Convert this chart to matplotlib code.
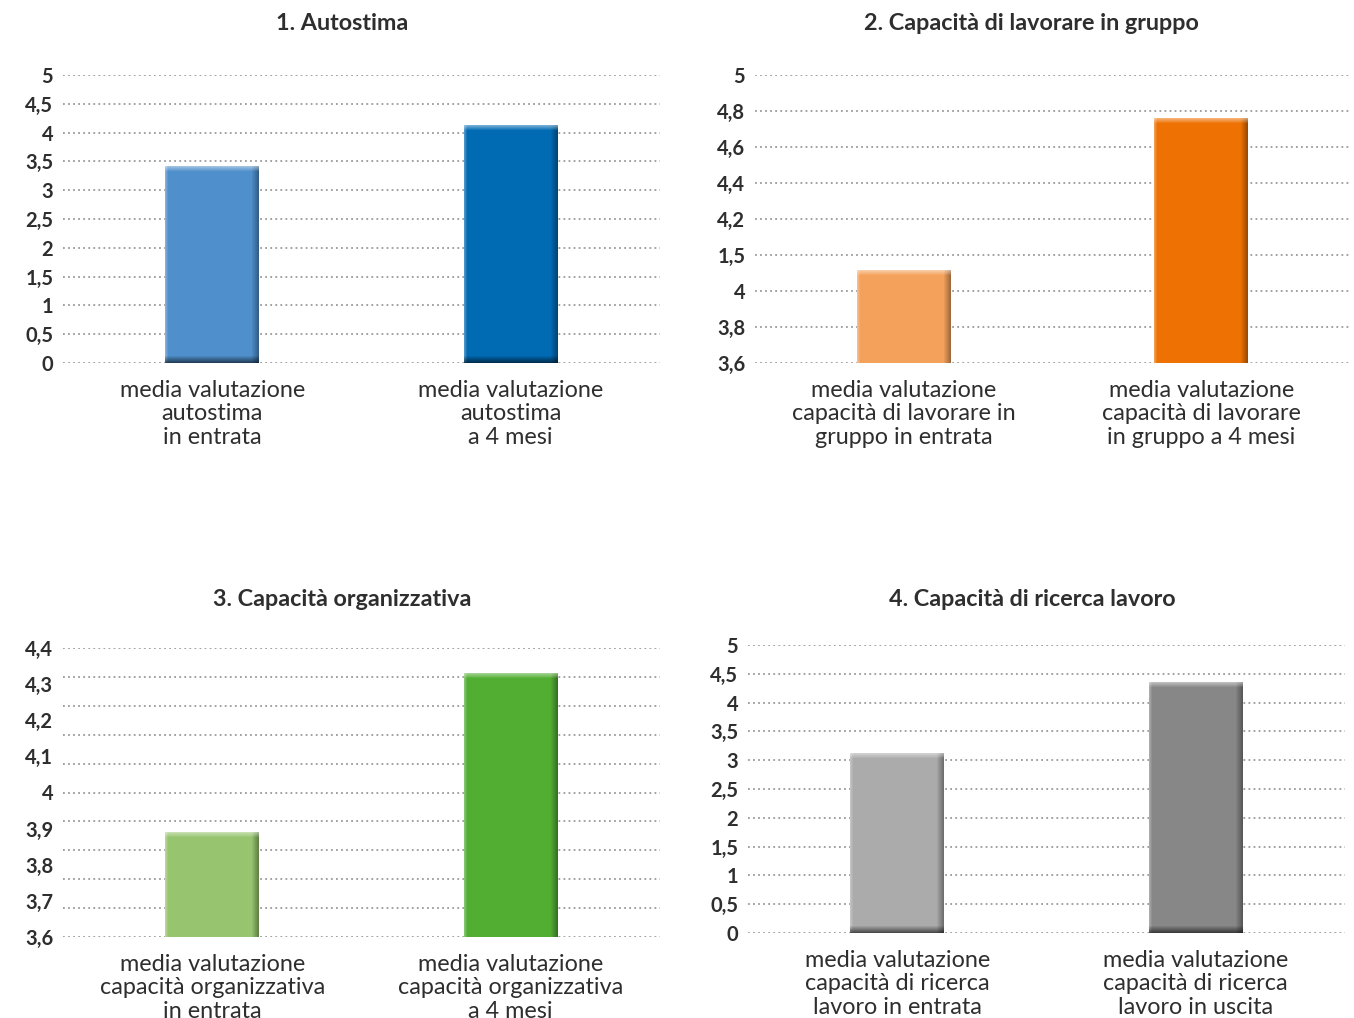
import numpy as np
import matplotlib
matplotlib.use("Agg")
import matplotlib.pyplot as plt
from matplotlib.patches import Rectangle

plt.rcParams['font.family'] = ['Lato', 'DejaVu Sans']

# ---------------- data ----------------
titles = ['1. Autostima', '2. Capacità di lavorare in gruppo',
          '3. Capacità organizzativa', '4. Capacità di ricerca lavoro']

cats1 = ['media valutazione\nautostima\nin entrata', 'media valutazione\nautostima\na 4 mesi']
cats2 = ['media valutazione\ncapacità di lavorare in\ngruppo in entrata',
         'media valutazione\ncapacità di lavorare\nin gruppo a 4 mesi']
cats3 = ['media valutazione\ncapacità organizzativa\nin entrata',
         'media valutazione\ncapacità organizzativa\na 4 mesi']
cats4 = ['media valutazione\ncapacità di ricerca\nlavoro in entrata',
         'media valutazione\ncapacità di ricerca\nlavoro in uscita']

vals1 = [3.42, 4.13]
vals2 = [4.05, 4.79]
vals3 = [3.89, 4.33]
vals4 = [3.12, 4.36]

ticks1 = [0, 0.5, 1, 1.5, 2, 2.5, 3, 3.5, 4, 4.5, 5]
ticklabels1 = ['0', '0,5', '1', '1,5', '2', '2,5', '3', '3,5', '4', '4,5', '5']
ticks2 = [3.6, 3.775, 3.95, 4.125, 4.3, 4.475, 4.65, 4.825, 5.0]
ticklabels2 = ['3,6', '3,8', '4', '1,5', '4,2', '4,4', '4,6', '4,8', '5']
ticks3 = [3.6, 3.7, 3.8, 3.9, 4.0, 4.1, 4.2, 4.3, 4.4]
ticklabels3 = ['3,6', '3,7', '3,8', '3,9', '4', '4,1', '4,2', '4,3', '4,4']
grid3 = [3.6, 3.68, 3.76, 3.84, 3.92, 4.0, 4.08, 4.16, 4.24, 4.32, 4.4]

colors1 = ['#4F8FCB', '#006AB3']
colors2 = ['#F4A15B', '#EE7203']
colors3 = ['#97C56F', '#52AE32']
colors4 = ['#ABABAB', '#878787']

TXT = '#2e2e2e'

W, H = 1354, 1018
fig = plt.figure(figsize=(W / 100, H / 100), dpi=100)
fig.patch.set_facecolor('white')


def px_axes(l, t, r, b):
    return fig.add_axes([l / W, 1 - b / H, (r - l) / W, (b - t) / H])


def bevel(ax, patch, ylim, wpx, hpx):
    x, y = patch.get_x(), patch.get_y()
    w, h = patch.get_width(), patch.get_height()
    dx = 2.0 / wpx
    dy = (ylim[1] - ylim[0]) / hpx
    n = 7
    for i in range(n):
        a = 0.5 * (i + 1) / n
        ax.add_patch(Rectangle((x + w - (n - i) * dx, y), dx, h,
                               color='black', alpha=a * 0.7, lw=0, zorder=3))
    for i in range(3):
        a = 0.3 * (3 - i) / 3
        ax.add_patch(Rectangle((x + i * dx, y), dx, h,
                               color='white', alpha=a, lw=0, zorder=3))
    for i in range(5):
        a = 0.45 * (5 - i) / 5
        ax.add_patch(Rectangle((x, y + h - (i + 1) * dy), w, dy,
                               color='white', alpha=a, lw=0, zorder=3))
    for i in range(7):
        a = 0.7 * (7 - i) / 7
        ax.add_patch(Rectangle((x, y + i * dy), w, dy,
                               color='black', alpha=a * 0.8, lw=0, zorder=3))


def panel(box, vals, cats, colors, ylim, ticks, ticklabels, grid, title, title_x, title_y):
    l, t, r, b = box
    ax = px_axes(l, t, r, b)
    ax.set_xlim(-0.5, 1.5)
    ax.set_ylim(*ylim)
    bars = ax.bar([0, 1], vals, width=0.315, color=colors, zorder=2)
    for g in grid:
        ax.axhline(g, color='#9a9a9a', lw=1.3, linestyle=(0, (1, 1.8)), zorder=1)
    for p in bars:
        bevel(ax, p, ylim, r - l, b - t)
    ax.set_yticks(ticks)
    ax.set_yticklabels(ticklabels, fontsize=14.5, color=TXT, fontweight='bold')
    ax.set_xticks([0, 1])
    ax.set_xticklabels(cats, fontsize=16.8, color=TXT, linespacing=1.15)
    ax.tick_params(axis='y', length=0, pad=7)
    ax.tick_params(axis='x', length=0, pad=12)
    for s in ax.spines.values():
        s.set_visible(False)
    fig.text(title_x / W, 1 - title_y / H, title, ha='center', va='center',
             fontsize=16.8, fontweight='bold', color=TXT)
    return ax


panel((63, 75, 660, 363), vals1, cats1, colors1, (0, 5), ticks1, ticklabels1, ticks1,
      titles[0], 342, 23)
panel((755, 75, 1350, 363), vals2, cats2, colors2, (3.6, 5.0), ticks2, ticklabels2, ticks2,
      titles[1], 1031, 23)
panel((63, 648, 660, 937), vals3, cats3, colors3, (3.6, 4.4), ticks3, ticklabels3, grid3,
      titles[2], 342, 600)
panel((748, 645, 1345, 933), vals4, cats4, colors4, (0, 5), ticks1, ticklabels1, ticks1,
      titles[3], 1032, 600)

fig.savefig('out.png', dpi=100, facecolor='white')
